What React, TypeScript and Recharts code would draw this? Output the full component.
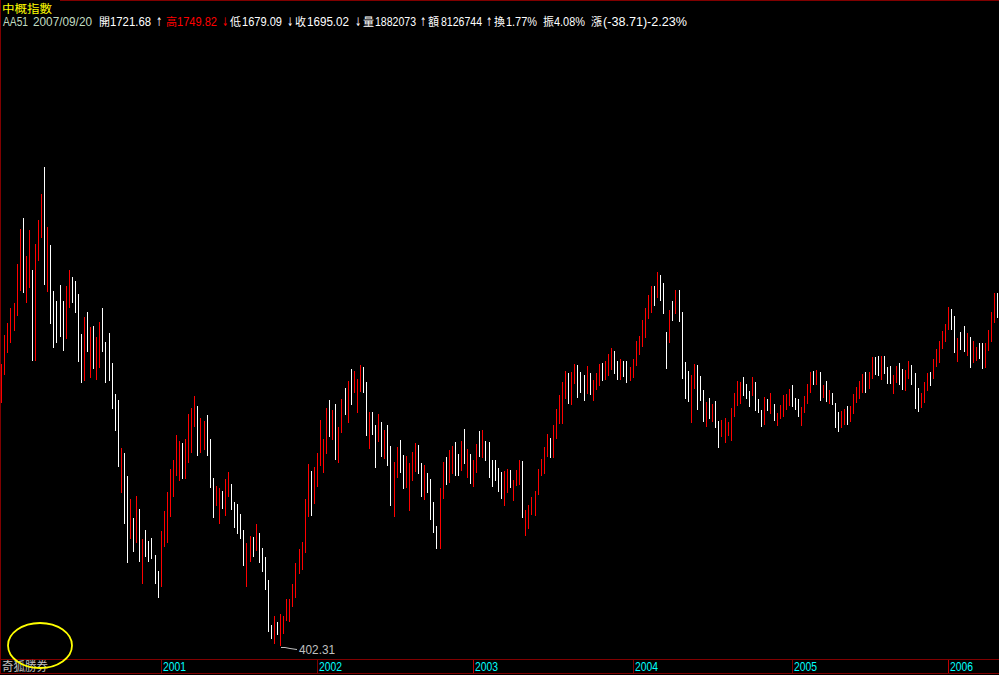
import React from 'react';
import { ComposedChart, Bar, XAxis, YAxis, ReferenceDot } from 'recharts';

// weekly high / low of the index (2000 - 2006), one entry per week
const highs = [
  1107, 1179.5, 1209.5, 1247, 1259.5, 1357, 1444.5, 1472, 1377, 1442,
  1342, 1407, 1467, 1532, 1599.5, 1449.5, 1404.5, 1289.5, 1264.5, 1304.5,
  1264.5, 1302, 1342, 1324.5, 1314.5, 1282, 1182, 1224.5, 1237, 1199.5,
  1202, 1174.5, 1212, 1247, 1162, 1184.5, 1109.5, 1032, 1017, 897,
  884.5, 827, 769.5, 722, 777, 744.5, 669.5, 692, 664.5, 672,
  629.5, 589.5, 689.5, 739.5, 787, 844.5, 867, 929.5, 914.5, 909.5,
  919.5, 982, 997, 1027, 1002,
  972, 964.5, 979.5, 919.5, 822,
  802, 797, 789.5, 819.5, 837, 807, 762, 757, 732, 692,
  659.5, 677, 674.5, 707, 684.5, 647, 624.5, 567, 454.5, 477,
  462, 482, 477, 519.5, 519.5, 557, 609.5, 644.5, 662, 769.5,
  857, 839.5, 849.5, 884.5, 967, 919.5, 997, 1017, 992, 1007,
  949.5, 1019.5, 1047, 1064.5, 1094.5, 1089.5, 1069.5, 1104.5, 1099.5, 1062,
  987, 987, 954.5, 982,
  962, 942, 954.5, 902, 862, 899.5,
  917, 879.5, 877, 859.5, 887, 909.5, 904.5, 859.5, 854.5, 834.5,
  819.5, 762, 702, 797, 862, 874.5, 892, 902, 912, 882,
  914.5, 944.5, 894.5, 882, 867, 907, 939.5, 942, 914.5, 912,
  867, 867, 847, 837, 839.5, 844.5, 842, 817, 842, 867,
  864.5, 742, 754.5, 774.5, 789.5, 844.5, 869.5, 899.5, 932, 922,
  954.5, 994.5, 1029.5, 1062, 1089.5, 1084.5, 1087, 1107, 1104.5, 1087,
  1079.5, 1102, 1084.5, 1067, 1084.5, 1107,
  1109.5, 1114.5, 1132, 1147,
  1139.5, 1114.5, 1119.5, 1114.5, 1114.5, 1099.5, 1119.5, 1164.5, 1177, 1217,
  1247, 1279.5, 1302, 1302, 1337, 1329.5, 1309.5, 1187, 1242, 1264.5,
  1292, 1292, 1237, 1112, 1089.5, 1079.5, 1107, 1104.5, 1077, 1042,
  1012, 1022, 1007, 1014.5, 964.5, 967, 972, 962, 997, 1034.5,
  1064.5, 1062, 1074.5, 1057, 1039.5, 1074.5, 1062, 1019.5, 992, 1024.5,
  1019.5, 1034.5, 1007, 984.5, 1004.5, 1029.5, 1032, 1044.5, 1054.5, 1022,
  1019.5, 999.5, 1027, 1057, 1087, 1089.5, 1092,
  1087, 1054.5, 1064.5,
  1042, 1034.5, 1009.5, 987, 989.5, 994.5, 1002, 1002, 1032, 1049.5,
  1064.5, 1082, 1087, 1087, 1124.5, 1124.5, 1127, 1127, 1127, 1099.5,
  1102, 1079.5, 1102, 1109.5, 1094.5, 1092, 1114.5, 1104.5, 1084.5, 1047,
  1034.5, 1062, 1084.5, 1087, 1119.5, 1144.5, 1164.5, 1189.5, 1207, 1249.5,
  1244.5, 1227, 1172, 1187, 1202, 1184.5, 1174.5, 1164.5, 1149.5, 1159.5,
  1159.5, 1159.5, 1192, 1237, 1284.5, 1284.5,
];

const lows = [
  1009.5, 1079.5, 1134.5, 1159.5, 1189.5, 1227, 1289.5, 1284.5, 1259.5, 1297,
  1114.5, 1114.5, 1364.5, 1422, 1304.5, 1287, 1207, 1147, 1159.5, 1174.5,
  1139.5, 1169.5, 1247, 1259.5, 1234.5, 1112, 1059.5, 1064.5, 1137, 1072,
  1094.5, 1067, 1097, 1137, 1059.5, 1064.5, 994.5, 939.5, 849.5, 784.5,
  707, 609.5, 669.5, 637, 659.5, 612, 557, 624.5, 612, 619.5,
  557, 522, 549.5, 649.5, 659.5, 724.5, 774.5, 827, 814.5, 819.5,
  819.5, 859.5, 884.5, 949.5, 877,
  884.5, 892, 877, 797, 722,
  752, 707, 744.5, 727, 774.5, 742, 697, 682, 669.5, 602,
  549.5, 612, 624.5, 639.5, 609.5, 587, 542, 437, 419.5, 407,
  429.5, 402.31, 432, 464.5, 462, 499.5, 522, 582, 592, 634.5,
  724.5, 727, 757, 799.5, 852, 834.5, 882, 924.5, 917, 867,
  859.5, 934.5, 979.5, 959.5, 1004.5, 1034.5, 984.5, 1037, 1034.5, 927,
  894.5, 929.5, 847, 912,
  874.5, 869.5, 852, 752, 724.5, 822,
  834.5, 794.5, 797, 739.5, 814.5, 837, 832, 774.5, 767, 784.5,
  717, 684.5, 644.5, 644.5, 769.5, 804.5, 809.5, 832, 827, 827,
  839.5, 857, 822, 807, 799.5, 834.5, 874.5, 872, 864.5, 822,
  799.5, 814.5, 787, 769.5, 752, 784.5, 797, 764.5, 802, 804.5,
  722, 677, 694.5, 729.5, 727, 779.5, 827, 832, 874.5, 872,
  872, 919.5, 957, 957, 1019.5, 1007, 1004.5, 1057, 1022, 1034.5,
  1014.5, 1032, 1029.5, 1014.5, 1042, 1052,
  1064.5, 1067, 1077, 1092,
  1082, 1067, 1067, 1074.5, 1059.5, 1064.5, 1072, 1102, 1129.5, 1149.5,
  1172, 1219.5, 1234.5, 1252, 1272, 1264.5, 1232, 1094.5, 1159.5, 1214.5,
  1232, 1212, 1069.5, 1019.5, 1012, 959.5, 1044.5, 992, 1014.5, 962,
  949.5, 969.5, 962, 947, 897, 924.5, 909.5, 927, 914.5, 974.5,
  1002, 1007, 1027, 1019.5, 999.5, 1027, 989.5, 984.5, 949.5, 954.5,
  989.5, 982, 964.5, 952, 969.5, 974.5, 992, 1002, 999.5, 992,
  974.5, 952, 984.5, 1007, 1034.5, 1054.5, 1054.5,
  1014.5, 1022, 1012,
  1007, 1004.5, 947, 937, 947, 954.5, 954.5, 962, 982, 1009.5,
  1019.5, 1034.5, 1034.5, 1044.5, 1069.5, 1079.5, 1077, 1067, 1082, 1057,
  1057, 1032, 1059.5, 1054.5, 1042, 1039.5, 1069.5, 1054.5, 994.5, 987,
  997, 1009.5, 1039.5, 1052, 1069.5, 1099.5, 1109.5, 1144.5, 1162, 1192,
  1192, 1134.5, 1112, 1142, 1137, 1127, 1097, 1109.5, 1114.5, 1119.5,
  1094.5, 1097, 1139.5, 1162, 1209.5, 1222,
];

// 1 = week closed up (red), 0 = closed down (white)
const ups = [
  1, 1, 1, 1, 1, 1, 1, 0, 1, 1,
  0, 1, 1, 1, 0, 1, 0, 0, 0, 0,
  0, 1, 1, 0, 0, 0, 0, 1, 0, 1,
  0, 1, 1, 0, 0, 0, 0, 0, 0, 1,
  0, 0, 1, 0, 1, 0, 1, 0, 0, 0,
  0, 0, 1, 1, 1, 1, 1, 1, 1, 0,
  1, 1, 1, 1, 0,
  1, 1, 0, 0, 0,
  1, 1, 0, 1, 1, 0, 0, 0, 0, 0,
  1, 1, 0, 1, 0, 0, 0, 0, 0, 1,
  0, 1, 1, 1, 1, 1, 1, 1, 1, 1,
  1, 0, 1, 1, 1, 1, 1, 0, 1, 0,
  1, 1, 0, 1, 0, 1, 1, 1, 0, 0,
  1, 0, 0, 1,
  0, 1, 0, 0, 1, 1,
  0, 0, 1, 1, 1, 1, 0, 0, 1, 0,
  0, 0, 0, 1, 1, 0, 1, 1, 0, 0,
  1, 0, 1, 0, 1, 1, 0, 1, 0, 0,
  0, 0, 0, 0, 1, 1, 0, 1, 1, 1,
  0, 1, 1, 1, 1, 1, 1, 1, 1, 0,
  1, 1, 1, 1, 1, 0, 1, 1, 0, 0,
  0, 1, 0, 1, 1, 1,
  0, 1, 1, 1,
  0, 0, 1, 0, 0, 1, 1, 1, 1, 1,
  1, 1, 1, 0, 1, 0, 0, 0, 1, 0,
  1, 0, 0, 0, 0, 1, 1, 0, 0, 0,
  1, 0, 1, 0, 0, 1, 1, 1, 1, 1,
  1, 1, 0, 0, 0, 1, 0, 0, 0, 1,
  0, 1, 0, 1, 1, 1, 1, 1, 0, 0,
  0, 1, 1, 1, 1, 0, 1,
  0, 1, 0,
  1, 0, 0, 0, 1, 1, 0, 1, 1, 1,
  1, 1, 0, 1, 1, 0, 0, 1, 0, 0,
  0, 1, 1, 0, 0, 1, 1, 0, 0, 0,
  1, 1, 1, 0, 1, 1, 1, 1, 1, 1,
  0, 0, 1, 0, 0, 1, 0, 1, 1, 0,
  0, 1, 1, 1, 1, 0,
];

// first week of each year on the time axis
const yearLabels = ['2001', '2002', '2003', '2004', '2005', '2006'];
const yearStartIdx = [52, 103, 154, 206, 258, 309];
const sepColors = ['#800000', '#800000', '#c00000', '#800000', '#800000', '#c00000'];

// lowest point annotation
const lowIdx = 91;
const lowValue = 402.31;

// header quote line (2007/09/20)
const headerCode = 'AA51';
const headerDate = '2007/09/20';
const headerFields = [
  { k: '開', v: '1721.68', a: '↑', c: '#ffffff', kx: 99, vx: 110, vw: 41, ax: 156 },
  { k: '高', v: '1749.82', a: '↓', c: '#ff0000', kx: 166, vx: 177, vw: 40, ax: 222 },
  { k: '低', v: '1679.09', a: '↓', c: '#ffffff', kx: 230, vx: 242, vw: 40, ax: 287 },
  { k: '收', v: '1695.02', a: '↓', c: '#ffffff', kx: 295, vx: 307, vw: 42, ax: 355 },
  { k: '量', v: '1882073', a: '↑', c: '#ffffff', kx: 363, vx: 375, vw: 41, ax: 420 },
  { k: '額', v: '8126744', a: '↑', c: '#ffffff', kx: 428, vx: 441, vw: 41, ax: 486 },
  { k: '換', v: '1.77%', a: '', c: '#ffffff', kx: 494, vx: 506, vw: 31, ax: 0 },
  { k: '振', v: '4.08%', a: '', c: '#ffffff', kx: 543, vx: 554, vw: 31, ax: 0 },
  { k: '漲', v: '(-38.71)-2.23%', a: '', c: '#ffffff', kx: 591, vx: 603, vw: 84, ax: 0 },
];

const data = highs.map((h, i) => ({ i, range: [lows[i], h], up: ups[i] }));

const CJK = '"Noto Sans CJK TC", "Noto Sans CJK SC", sans-serif';
const NUM = '"Liberation Sans Narrow", "Liberation Sans", Arial, sans-serif';
const ARROW = '"DejaVu Sans", sans-serif';

const HLBar = (props: any) => {
  const { x, y, width, height, payload } = props;
  if (x == null || y == null) return null;
  const cx = Math.round(x + width / 2);
  const top = Math.min(y, y + height);
  const h = Math.max(1, Math.abs(height));
  return (
    <rect
      x={cx}
      y={top}
      width={1}
      height={h}
      fill={payload && payload.up ? '#ff0000' : '#ffffff'}
      shapeRendering="crispEdges"
    />
  );
};

const YearTick = (props: any) => {
  const { x, payload } = props;
  const k = yearStartIdx.indexOf(payload.value);
  if (k < 0) return null;
  const px = Math.round(x) + 0.5;
  return (
    <g>
      <line x1={px} x2={px} y1={659} y2={673} stroke={sepColors[k]} strokeWidth={1} />
      <text
        x={px + 1.5}
        y={671}
        fill="#00ffff"
        fontSize={13}
        fontFamily={NUM}
        textLength={23}
        lengthAdjust="spacingAndGlyphs"
      >
        {yearLabels[k]}
      </text>
    </g>
  );
};

const LowLabel = (props: any) => {
  const { cx, cy } = props;
  if (cx == null || cy == null) return null;
  const x0 = Math.round(cx);
  const y0 = Math.round(cy);
  return (
    <g>
      <polyline
        points={`${x0 + 1},${y0 + 1.5} ${x0 + 5},${y0 + 1.5} ${x0 + 10},${y0 + 2.5} ${x0 + 17},${y0 + 3.5}`}
        fill="none"
        stroke="#c0c0c0"
        strokeWidth={1}
      />
      <text
        x={x0 + 19}
        y={y0 + 8}
        fill="#c0c0c0"
        fontSize={13}
        fontFamily={NUM}
        textLength={36}
        lengthAdjust="spacingAndGlyphs"
      >
        {String(lowValue)}
      </text>
    </g>
  );
};

export default function App() {
  return (
    <div style={{ position: 'relative', width: 999, height: 675, background: '#000', overflow: 'hidden' }}>
      <style>{'html,body{margin:0;padding:0;background:#000;}'}</style>
      <ComposedChart
        width={999}
        height={675}
        data={data}
        margin={{ top: 28, right: 0, bottom: 1, left: 0 }}
        style={{ background: '#000' }}
      >
        <XAxis
          dataKey="i"
          type="category"
          height={16}
          ticks={yearStartIdx}
          interval={0}
          tick={<YearTick />}
          axisLine={false}
          tickLine={false}
        />
        <YAxis hide type="number" domain={[372, 1947]} allowDataOverflow />
        <Bar dataKey="range" isAnimationActive={false} shape={<HLBar />} />
        <ReferenceDot x={lowIdx} y={lowValue} shape={<LowLabel />} ifOverflow="visible" />
      </ComposedChart>
      <svg
        width={999}
        height={675}
        style={{ position: 'absolute', left: 0, top: 0, pointerEvents: 'none' }}
      >
        {/* frame */}
        <line x1={0.5} x2={0.5} y1={0} y2={674} stroke="#800000" />
        <line x1={60} x2={999} y1={0.5} y2={0.5} stroke="#800000" />
        <line x1={0} x2={999} y1={659.5} y2={659.5} stroke="#800000" />
        <line x1={0} x2={999} y1={673.5} y2={673.5} stroke="#800000" />
        {/* title */}
        <text x={2} y={12.5} fill="#ffff00" fontSize={11.5} fontFamily={CJK} textLength={50} lengthAdjust="spacingAndGlyphs">
          中概指數
        </text>
        {/* quote line, one text run made of positioned pieces */}
        <text y={26}>
          <tspan x={3} fill="#c0dcc0" fontSize={12.5} fontFamily={NUM} textLength={25} lengthAdjust="spacingAndGlyphs">
            {headerCode}
          </tspan>
          <tspan x={33} fill="#c0dcc0" fontSize={12.5} fontFamily={NUM} textLength={59} lengthAdjust="spacingAndGlyphs">
            {headerDate}
          </tspan>
          {headerFields.map((f) => [
            <tspan key={f.k + 'k'} x={f.kx} fill={f.c} fontSize={11} fontFamily={CJK} textLength={11} lengthAdjust="spacingAndGlyphs">
              {f.k}
            </tspan>,
            <tspan key={f.k + 'v'} x={f.vx} fill={f.c} fontSize={12.5} fontFamily={NUM} textLength={f.vw} lengthAdjust="spacingAndGlyphs">
              {f.v}
            </tspan>,
            f.a ? (
              <tspan key={f.k + 'a'} x={f.ax} fill={f.c} fontSize={12} fontFamily={ARROW} textLength={6} lengthAdjust="spacingAndGlyphs">
                {f.a}
              </tspan>
            ) : null,
          ])}
        </text>
        {/* footer brand */}
        <text x={2} y={671} fill="#c0c0c0" fontSize={12} fontFamily={CJK} textLength={46} lengthAdjust="spacingAndGlyphs">
          奇狐勝券
        </text>
        <ellipse cx={40} cy={645.5} rx={32} ry={22.5} fill="none" stroke="#ffff00" strokeWidth={1.8} />
      </svg>
    </div>
  );
}
